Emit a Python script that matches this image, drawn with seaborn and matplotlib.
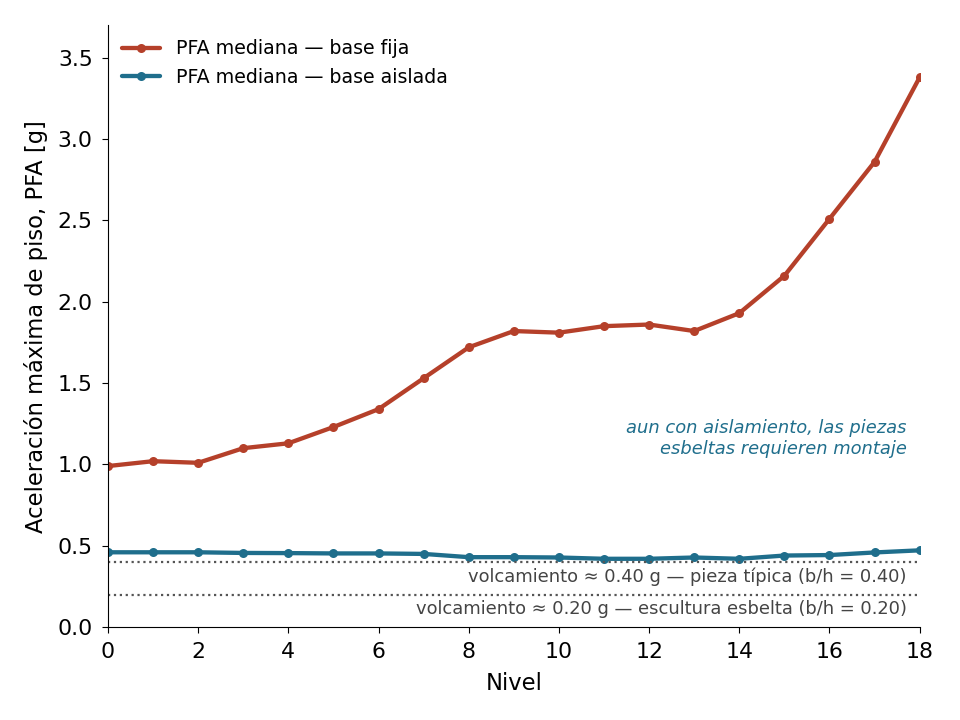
import matplotlib
matplotlib.use("Agg")
import matplotlib.pyplot as plt
import seaborn as sns
import pandas as pd

# Datos
niveles = list(range(19))
pfa_fija = [0.99, 1.02, 1.01, 1.10, 1.13, 1.23, 1.34, 1.53, 1.72, 1.82,
            1.81, 1.85, 1.86, 1.82, 1.93, 2.16, 2.51, 2.86, 3.38]
pfa_aislada = [0.46, 0.46, 0.46, 0.456, 0.455, 0.453, 0.453, 0.45, 0.43, 0.43,
               0.428, 0.42, 0.42, 0.428, 0.42, 0.44, 0.443, 0.459, 0.472]
umbrales = [0.40, 0.20]
umbral_labels = ["volcamiento ≈ 0.40 g — pieza típica (b/h = 0.40)",
                 "volcamiento ≈ 0.20 g — escultura esbelta (b/h = 0.20)"]

col_fija = "#b5402a"
col_aislada = "#1f6e8c"

df = pd.DataFrame({
    "Nivel": niveles * 2,
    "PFA": pfa_fija + pfa_aislada,
    "serie": ["PFA mediana — base fija"] * len(niveles) + ["PFA mediana — base aislada"] * len(niveles),
})

sns.set_style("ticks", rc={"text.color": "black", "axes.labelcolor": "black",
                           "xtick.color": "black", "ytick.color": "black",
                           "axes.edgecolor": "black"})
plt.rcParams["font.family"] = ["DejaVu Sans"]

fig, ax = plt.subplots(figsize=(9.6, 7.2), dpi=100)
sns.lineplot(data=df, x="Nivel", y="PFA", hue="serie",
             palette=[col_fija, col_aislada], marker="o", markersize=6.5,
             markeredgewidth=0, linewidth=3.1, ax=ax)

for u, lab in zip(umbrales, umbral_labels):
    ax.axhline(u, color="#555555", linestyle=":", linewidth=1.6)
    ax.text(0.984, u - 0.09, lab, transform=ax.get_yaxis_transform(),
            ha="right", va="center", fontsize=12.9, color="#444444")

ax.text(0.984, 1.158, "aun con aislamiento, las piezas\nesbeltas requieren montaje",
        transform=ax.get_yaxis_transform(), ha="right", va="center",
        fontsize=12.9, color=col_aislada, style="italic")

ax.set_xlim(0, 18)
ax.set_ylim(0, 3.7)
ax.set_xticks(range(0, 19, 2))
ax.set_xlabel("Nivel", fontsize=16.3, labelpad=7)
ax.set_ylabel("Aceleración máxima de piso, PFA [g]", fontsize=16.3, labelpad=7)
ax.tick_params(labelsize=15.8, length=4.5, pad=6.5)
sns.despine(ax=ax)
ax.legend(loc="upper left", frameon=False, fontsize=13.7, borderaxespad=0.35)

fig.subplots_adjust(left=0.1125, right=0.958, top=0.965, bottom=0.129)
fig.savefig("out.png", dpi=100)
